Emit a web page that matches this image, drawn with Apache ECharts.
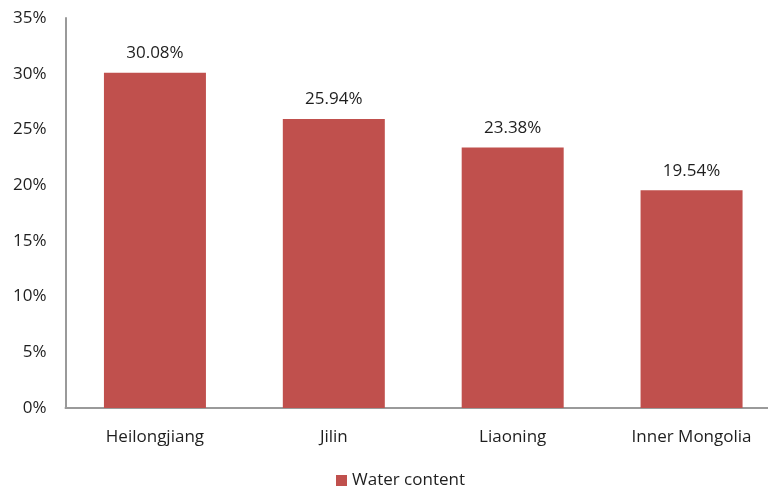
<!DOCTYPE html>
<html><head><meta charset="utf-8">
<script src="https://cdn.jsdelivr.net/npm/echarts@6/dist/echarts.min.js"></script>
<style>html,body{margin:0;padding:0;background:#fff}#c{width:768px;height:491px}</style>
</head><body><div id="c"></div>
<script>
const categories = ["Heilongjiang", "Jilin", "Liaoning", "Inner Mongolia"];
const waterContent = [30.08, 25.94, 23.38, 19.54];
const seriesName = "Water content";
const yTicks = [0, 5, 10, 15, 20, 25, 30, 35];

const chart = echarts.init(document.getElementById('c'), null, {renderer: 'canvas'});
const font = '"Open Sans", "Noto Sans", sans-serif';
const txt = '#1e1e1e';
chart.setOption({
  animation: false,
  backgroundColor: '#fff',
  grid: {left: 65.5, width: 715.5, top: 18, bottom: 83, containLabel: false, outerBoundsMode: 'none'},
  legend: {
    bottom: 2, left: 336, padding: 0,
    data: [seriesName],
    itemWidth: 11, itemHeight: 11, itemGap: 5,
    icon: 'rect',
    textStyle: {fontFamily: font, fontSize: 17, color: txt}
  },
  xAxis: {
    type: 'category', data: categories,
    axisLine: {lineStyle: {color: '#9a9a9a', width: 2}},
    axisTick: {show: false},
    axisLabel: {fontFamily: font, fontSize: 17, color: txt, margin: 21}
  },
  yAxis: {
    type: 'value', min: yTicks[0], max: yTicks[yTicks.length - 1], interval: 5,
    axisLine: {show: true, lineStyle: {color: '#9a9a9a', width: 2}},
    axisTick: {show: false},
    splitLine: {show: false},
    axisLabel: {fontFamily: font, fontSize: 17, color: txt, margin: 19, formatter: v => v + '%'}
  },
  series: [{
    name: seriesName, type: 'bar', data: waterContent,
    barWidth: 102,
    itemStyle: {color: '#C0504D'},
    label: {show: true, position: 'top', distance: 11, fontFamily: font, fontSize: 17, color: txt,
      formatter: p => p.value.toFixed(2) + '%'}
  }]
});
</script></body></html>
